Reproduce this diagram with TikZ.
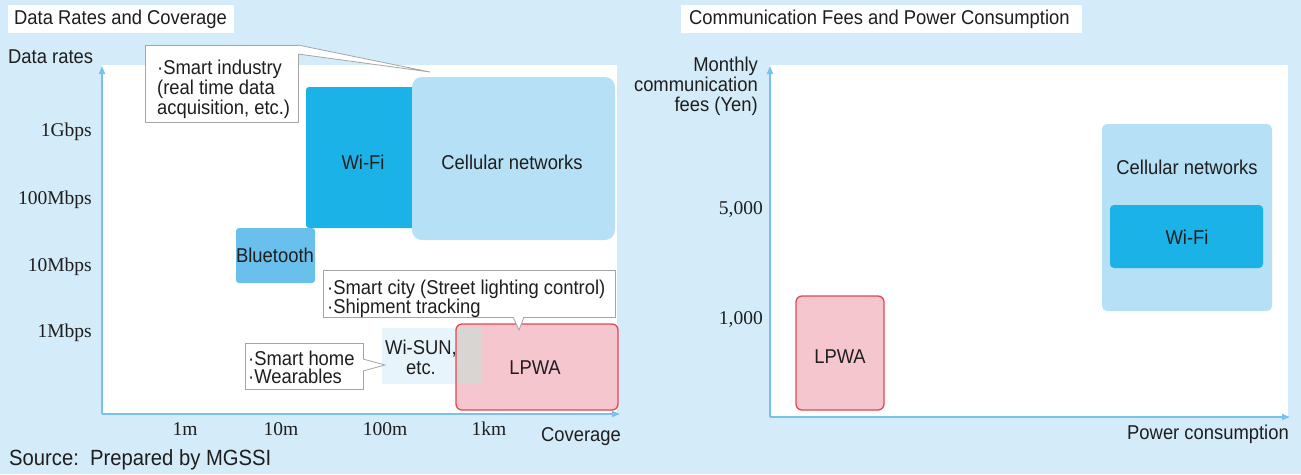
\documentclass[tikz,border=0pt]{standalone}
\usepackage{fontspec}
\setmainfont{Liberation Sans}[FakeStretch=0.92]
\newfontfamily\serifnum{Liberation Serif}
\usetikzlibrary{calc,arrows.meta}
\definecolor{bgblue}{RGB}{212,236,249}
\definecolor{wifiblue}{RGB}{27,178,232}
\definecolor{cellblue}{RGB}{182,224,245}
\definecolor{btblue}{RGB}{105,192,236}
\definecolor{lpwafill}{RGB}{246,198,206}
\definecolor{lpwadraw}{RGB}{226,72,82}
\definecolor{wisunfill}{RGB}{232,244,252}
\definecolor{overlapgray}{RGB}{217,213,211}
\definecolor{axisblue}{RGB}{120,195,235}
\definecolor{cgray}{RGB}{165,165,165}
\definecolor{txt}{RGB}{30,30,30}
\tikzset{
  lbl/.style={font=\fontsize{20}{20}\selectfont, text=txt, inner sep=0pt},
  num/.style={font=\serifnum\fontsize{19.5}{22}\selectfont, text=txt, inner sep=0pt},
  region/.style={rectangle, inner sep=0pt, outer sep=0pt, draw=none},
  titlebox/.style={rectangle, fill=white, inner sep=0pt, outer sep=0pt},
  callout/.style={rectangle, fill=white, draw=cgray, line width=0.8pt, inner sep=0pt, outer sep=0pt},
  axis/.style={draw=axisblue, line width=1.8pt, -{Triangle[length=8pt,width=6pt]}},
}
\begin{document}
\begin{tikzpicture}[x=1pt,y=-1pt]
\useasboundingbox (0,0) rectangle (1301,474);
\fill[bgblue] (0,0) rectangle (1301,474);

% ===== Left panel =====
\node[titlebox, minimum width=226pt, minimum height=28pt] (t1) at (121,19) {};
\node[lbl, anchor=west] (t1text) at (14,19) {Data Rates and Coverage};

\node[region, fill=white, minimum width=515pt, minimum height=349pt] (area1) at (359.5,239.5) {};

\coordinate (o1) at (102,414);
\coordinate (y1top) at (102,66);
\coordinate (x1end) at (620,414);
\draw[axis] (o1) -- (y1top);
\draw[axis] (o1) -- (x1end);

\node[lbl, anchor=west] (ylab1) at (8,57) {Data rates};
\node[num, anchor=east] (g1) at (92,132) {1Gbps};
\node[num, anchor=east] (m100) at (92,200) {100Mbps};
\node[num, anchor=east] (m10) at (92,267) {10Mbps};
\node[num, anchor=east] (m1) at (92,333) {1Mbps};
\node[num] (x1m) at (185,429) {1m};
\node[num] (x10m) at (281,429) {10m};
\node[num] (x100m) at (385,429) {100m};
\node[num] (x1km) at (489,429) {1km};
\node[lbl] (xlab1) at (581,437) {Coverage};
\node[lbl, anchor=west, font=\fontsize{22}{22}\selectfont] (src) at (9,460) {Source:\ \ Prepared by MGSSI};

% boxes
\node[region, fill=wifiblue, rounded corners=3pt, minimum width=110pt, minimum height=141pt] (wifi1) at (361,157.5) {};
\node[region, fill=cellblue, rounded corners=10pt, minimum width=203pt, minimum height=163pt] (cell1) at (513.5,158.5) {};
\node[lbl] (wifi1t) at (363,162) {Wi-Fi};
\node[lbl] (cell1t) at (512,162) {Cellular networks};
\node[region, fill=btblue, rounded corners=3pt, minimum width=79pt, minimum height=55pt] (bt) at (275.5,255.5) {};
\node[lbl] (btt) at (275,255) {Bluetooth};

\node[region, fill=wisunfill, minimum width=100pt, minimum height=56pt] (wisun) at (432,356) {};
\node[lbl, align=center] (wisunt) at (421,357) {Wi-SUN,\\etc.};
\node[region, fill=lpwafill, draw=lpwadraw, line width=1.3pt, rounded corners=6pt, minimum width=162pt, minimum height=86pt] (lpwa1) at (537,367) {};
\coordinate (ovl) at (457,367);
\fill[overlapgray] (ovl |- wisun.north) rectangle (wisun.south east);
\node[lbl] (lpwa1t) at (535,368) {LPWA};

% callout: smart industry
\node[callout, minimum width=153pt, minimum height=77pt] (si) at (221.5,83.5) {};
\node[lbl, anchor=north west, align=left] (sit) at (157,59.5) {·Smart industry\\(real time data\\acquisition, etc.)};
\coordinate (sitip) at (430,72);
\fill[white] (si.north east) -- (sitip) -- ($(si.north east)+(0,9)$) -- cycle;
\draw[cgray, line width=0.8pt] (si.north east) -- (sitip) -- ($(si.north east)+(0,9)$);

% callout: smart city
\node[callout, minimum width=292pt, minimum height=47pt] (sc) at (469,293.5) {};
\node[lbl, anchor=north west, align=left, font=\fontsize{20}{18}\selectfont] (sct) at (327,279.5) {·Smart city (Street lighting control)\\·Shipment tracking};
\coordinate (sctip) at (519,330);
\fill[white] ($(sc.south west)+(190,0)$) -- (sctip) -- ($(sc.south west)+(201,0)$) -- cycle;
\draw[cgray, line width=0.8pt] ($(sc.south west)+(190,0)$) -- (sctip) -- ($(sc.south west)+(201,0)$);

% callout: smart home
\node[callout, minimum width=118pt, minimum height=46pt] (sh) at (304,366) {};
\node[lbl, anchor=north west, align=left, font=\fontsize{20}{18}\selectfont] (sht) at (248,351) {·Smart home\\·Wearables};
\coordinate (shtip) at (385,365);
\fill[white] ($(sh.north east)+(0,16)$) -- (shtip) -- ($(sh.north east)+(0,28)$) -- cycle;
\draw[cgray, line width=0.8pt] ($(sh.north east)+(0,16)$) -- (shtip) -- ($(sh.north east)+(0,28)$);

% ===== Right panel =====
\node[titlebox, minimum width=401pt, minimum height=28pt] (t2) at (881.5,19) {};
\node[lbl, anchor=west] (t2text) at (689,19) {Communication Fees and Power Consumption};

\node[region, fill=white, minimum width=518pt, minimum height=352pt] (area2) at (1029,241) {};
\coordinate (o2) at (770,417);
\coordinate (y2top) at (770,66);
\coordinate (x2end) at (1290,417);
\draw[axis] (o2) -- (y2top);
\draw[axis] (o2) -- (x2end);

\node[lbl, anchor=east, align=right] (ylab2) at (758,86) {Monthly\\communication\\fees (Yen)};
\node[num, anchor=east] (f5000) at (763,210) {5,000};
\node[num, anchor=east] (f1000) at (763,320) {1,000};
\node[lbl, anchor=east] (xlab2) at (1289,434) {Power consumption};

\node[region, fill=cellblue, rounded corners=5pt, minimum width=170pt, minimum height=187pt] (cell2) at (1187,217.5) {};
\node[lbl] (cell2t) at (1187,167) {Cellular networks};
\node[region, fill=wifiblue, rounded corners=4pt, minimum width=153pt, minimum height=63pt] (wifi2) at (1186.5,236.5) {};
\node[lbl] (wifi2t) at (1187,237) {Wi-Fi};
\node[region, fill=lpwafill, draw=lpwadraw, line width=1.3pt, rounded corners=6pt, minimum width=88pt, minimum height=114pt] (lpwa2) at (840,353) {};
\node[lbl] (lpwa2t) at (840,357) {LPWA};
\end{tikzpicture}
\end{document}
